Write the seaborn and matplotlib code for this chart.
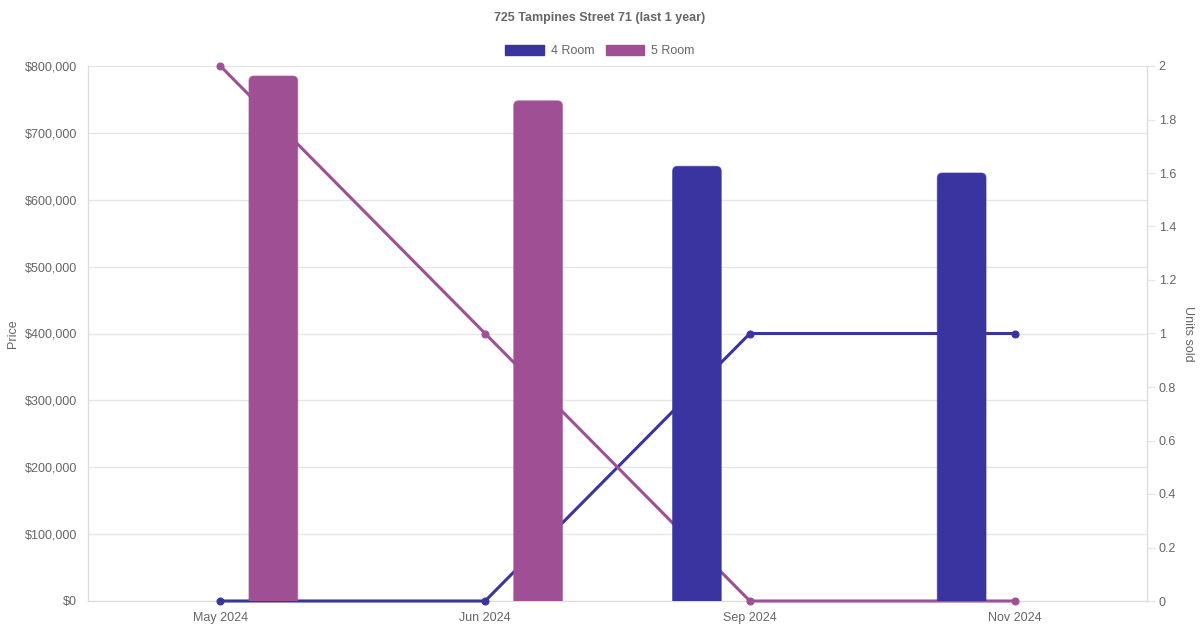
import matplotlib
matplotlib.use("Agg")
import matplotlib.pyplot as plt
import matplotlib.ticker as mticker
from matplotlib.patches import Patch, FancyBboxPatch
import numpy as np
import pandas as pd
import seaborn as sns

# data
months = ["May 2024", "Jun 2024", "Sep 2024", "Nov 2024"]
flat_types = ["4 Room", "5 Room"]
price_4room = [np.nan, np.nan, 650000, 640000]
price_5room = [785000, 748000, np.nan, np.nan]
units_4room = [0, 0, 1, 1]
units_5room = [2, 1, 0, 0]

colors = {"4 Room": "#39349f", "5 Room": "#9f5094"}
text_col = "#666666"
grid_col = "#e5e5e5"

price_df = pd.DataFrame({
    "month": months * 2,
    "type": ["4 Room"] * 4 + ["5 Room"] * 4,
    "price": price_4room + price_5room,
}).dropna()
units_df = pd.DataFrame({
    "month": months * 2,
    "type": ["4 Room"] * 4 + ["5 Room"] * 4,
    "units": units_4room + units_5room,
})

PRICE_MAX, UNITS_MAX = 800000, 2

sns.set_style("white")
plt.rcParams["font.family"] = ["Liberation Sans", "DejaVu Sans"]

W, H = 1200, 630
fig = plt.figure(figsize=(W / 100, H / 100), dpi=100)
ax = fig.add_axes([88 / W, 29 / H, 1059 / W, 535 / H])
ax2 = ax.twinx()

# lines on the right axis (drawn behind the bars)
for t in flat_types:
    sub = units_df[units_df["type"] == t]
    sns.lineplot(x=np.arange(len(months)), y=sub["units"].values, ax=ax2,
                 color=colors[t], linewidth=2.2, marker="o", markersize=5,
                 markerfacecolor=colors[t], markeredgecolor=colors[t],
                 markeredgewidth=0.8, clip_on=False, zorder=3)

# bars on the left axis
sns.barplot(data=price_df, x="month", y="price", hue="type", order=months,
            hue_order=flat_types, palette=colors, ax=ax, width=0.8, gap=0.54,
            dodge=True, linewidth=0, saturation=1, legend=False)

ax.set_xlim(-0.5, 3.5)
ax.set_ylim(0, PRICE_MAX)

# swap the square bars for ones with rounded top corners
xunit_px = 1059 / 4
yunit_px = 535 / PRICE_MAX
radius = 5 / xunit_px
aspect = xunit_px / yunit_px
for p in list(ax.patches):
    x0, y0 = p.get_x(), p.get_y()
    w, h = p.get_width(), p.get_height()
    if not np.isfinite(h) or h == 0:
        p.remove()
        continue
    fc = p.get_facecolor()
    rb = FancyBboxPatch((x0, y0 - 20000), w, h + 20000,
                        boxstyle=f"round,pad=0,rounding_size={radius}",
                        mutation_aspect=aspect, facecolor=fc,
                        edgecolor=matplotlib.colors.to_rgba(fc, 0.55),
                        linewidth=0.8, zorder=2)
    p.remove()
    ax.add_patch(rb)

ax.set_zorder(ax2.get_zorder() + 1)
ax.patch.set_visible(False)

ax.yaxis.set_major_locator(mticker.MultipleLocator(100000))
ax.yaxis.set_major_formatter(mticker.FuncFormatter(lambda v, _: f"${v:,.0f}"))
ax.set_xlabel("")
ax.set_ylabel("Price", color=text_col, fontsize=9, labelpad=4)
ax.tick_params(axis="y", length=0, pad=8, labelsize=9, labelcolor=text_col)
ax.tick_params(axis="x", length=0, pad=8, labelsize=9, labelcolor=text_col)

ax2.set_ylim(0, UNITS_MAX)
ax2.set_xlim(-0.5, 3.5)
ax2.yaxis.set_major_locator(mticker.MultipleLocator(0.2))
ax2.yaxis.set_major_formatter(mticker.FuncFormatter(lambda v, _: f"{v:g}"))
# price gridlines (every $100,000) drawn on the lower axes, behind the lines
ax2.yaxis.set_minor_locator(mticker.MultipleLocator(100000 * UNITS_MAX / PRICE_MAX))
ax2.yaxis.remove_overlapping_locs = False
ax2.grid(axis="y", which="minor", color=grid_col, linewidth=0.9, zorder=0.5)
ax2.set_axisbelow(True)
ax2.set_ylabel("Units sold", rotation=270, color=text_col, fontsize=9, labelpad=13)
ax2.tick_params(axis="y", which="major", length=6, width=0.9, color=grid_col,
                pad=2.5, labelsize=9, labelcolor=text_col)
ax2.tick_params(axis="y", which="minor", length=0)

for a in (ax, ax2):
    for s in a.spines.values():
        s.set_visible(False)
for name in ("left", "right", "bottom"):
    ax2.spines[name].set_visible(True)
    ax2.spines[name].set_color("#dcdcdc")
    ax2.spines[name].set_linewidth(0.9)
    ax2.spines[name].set_zorder(1)

fig.text(0.5, 1 - 18 / H, "725 Tampines Street 71 (last 1 year)", ha="center",
         va="center", fontsize=9, fontweight="bold", color=text_col)

handles = [Patch(facecolor=colors[t], edgecolor=colors[t]) for t in flat_types]
fig.legend(handles, flat_types, loc="center", bbox_to_anchor=(0.5, 1 - 51 / H),
           ncol=2, frameon=False, fontsize=9, handlelength=3.1, handleheight=0.95,
           handletextpad=0.55, columnspacing=0.9, labelcolor=text_col)

fig.savefig("out.png", dpi=100)
